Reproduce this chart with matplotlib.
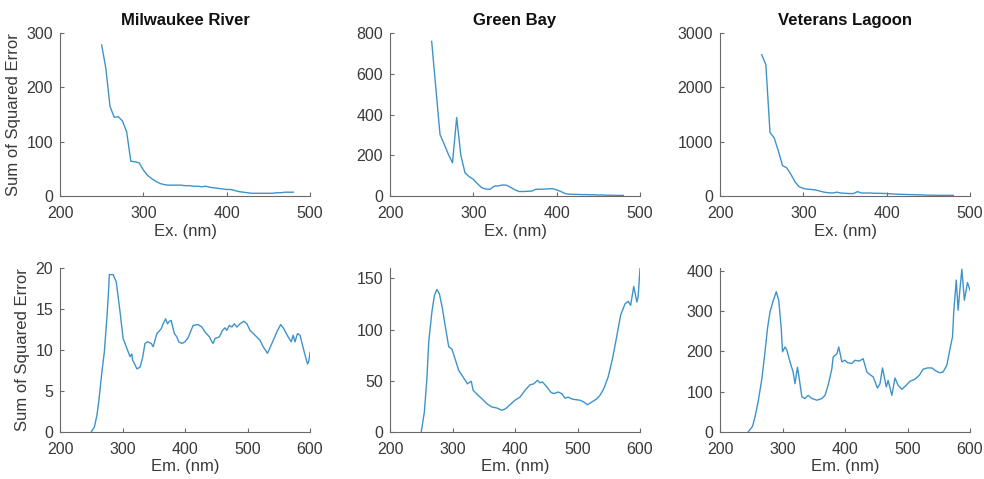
import matplotlib
matplotlib.use("Agg")
import matplotlib.pyplot as plt

plt.rcParams['font.family'] = ['Liberation Sans', 'DejaVu Sans']

titles = ["Milwaukee River", "Green Bay", "Veterans Lagoon"]
ylabel = "Sum of Squared Error"
ex_label = "Ex. (nm)"
em_label = "Em. (nm)"

# Excitation (top row)
ex_nm = [250, 255, 260, 265, 270, 275, 280, 285, 290, 295, 300, 305, 310, 315, 320,
         325, 330, 335, 340, 345, 350, 355, 360, 365, 370, 375, 380, 385, 390, 395,
         400, 405, 410, 415, 420, 425, 430, 435, 440, 445, 450, 455, 460, 465, 470,
         475, 480]
ex_milwaukee = [278, 235, 165, 145, 146, 138, 118, 64, 63, 61, 48, 38, 32, 27, 23,
                21, 20, 20, 20, 20, 19, 19, 18, 18, 17, 18, 16, 15, 14, 13,
                12, 12, 10, 8, 7, 6, 5, 5, 5, 5, 5, 5, 6, 6, 7,
                7, 7]
ex_greenbay = [759, 530, 302, 255, 205, 163, 385, 200, 114, 95, 82, 60, 41, 34, 33,
               48, 50, 54, 53, 42, 30, 22, 22, 23, 24, 33, 33, 34, 35, 36,
               30, 22, 12, 9, 8, 8, 7, 7, 6, 6, 5, 5, 4, 4, 3,
               3, 3]
ex_veterans = [2600, 2420, 1170, 1070, 830, 560, 520, 400, 260, 170, 140, 125, 120, 110, 90,
               70, 60, 55, 70, 55, 50, 45, 45, 80, 55, 55, 55, 50, 50, 48,
               45, 40, 35, 32, 30, 28, 25, 22, 20, 18, 15, 14, 13, 12, 12,
               12, 12]

# Emission (bottom row)
em_nm_milwaukee = [250, 255, 259, 262, 267, 271, 275, 277, 279, 285, 290, 296, 301, 307,
                   312, 315, 316, 320, 323, 328, 332, 336, 340, 346, 349, 355, 362, 365,
                   369, 372, 375, 378, 380, 383, 387, 390, 395, 400, 405, 413, 421, 427,
                   432, 439, 443, 445, 448, 455, 460, 464, 467, 471, 475, 479, 483, 488,
                   494, 499, 504, 512, 520, 525, 532, 539, 547, 553, 558, 565, 570, 573,
                   576, 580, 584, 588, 592, 596, 598, 600]
em_milwaukee = [0.0, 0.6, 2.0, 3.7, 7.3, 9.8, 13.9, 16.3, 19.2, 19.2, 18.3, 14.7, 11.4, 10.2,
                9.2, 9.5, 8.8, 8.2, 7.7, 7.9, 9.0, 10.8, 11.0, 10.8, 10.4, 12.0, 12.6, 13.2,
                13.8, 13.2, 13.5, 13.6, 12.9, 12.0, 11.6, 11.0, 10.8, 11.0, 11.5, 13.0, 13.1, 12.8,
                12.2, 11.6, 11.0, 10.8, 11.4, 11.6, 12.4, 12.7, 12.4, 13.0, 12.8, 13.2, 12.8, 13.2,
                13.5, 13.2, 12.4, 11.8, 11.2, 10.4, 9.6, 10.8, 12.2, 13.1, 12.6, 11.6, 11.0, 11.8,
                11.0, 12.0, 11.8, 10.6, 9.4, 8.3, 8.6, 9.7]

em_nm_greenbay = [250, 255, 259, 262, 267, 271, 275, 279, 284, 289, 294, 299, 304, 310,
                  317, 324, 330, 333, 340, 348, 355, 363, 371, 379, 385, 392, 400, 408,
                  416, 424, 430, 436, 440, 444, 451, 457, 462, 469, 475, 480, 485, 492,
                  504, 510, 516, 523, 530, 536, 542, 549, 556, 563, 569, 576, 581, 585,
                  590, 595, 597, 600]
em_greenbay = [0, 19.5, 52, 88, 117, 133, 139, 135, 120, 101, 83, 81, 71.5, 60,
               53.6, 47, 49.5, 40.7, 36.4, 31.9, 27.6, 24.4, 23.4, 21.2, 22.7, 26.6, 31, 34,
               40.7, 46, 47, 50.4, 48, 48.8, 44, 39, 37.4, 39, 37.4, 33, 34, 32,
               31, 29.3, 26.6, 29.3, 32, 35.8, 42.2, 53.6, 71.5, 94, 114, 125, 127.5, 123.6,
               142, 126.8, 131.7, 159.3]

em_nm_veterans = [245, 252, 256, 261, 267, 272, 276, 280, 285, 290, 294, 298, 300, 304,
                  307, 312, 317, 320, 324, 326, 331, 336, 341, 347, 355, 363, 368, 373,
                  379, 381, 387, 390, 395, 400, 404, 411, 416, 423, 429, 435, 441, 445,
                  452, 456, 460, 466, 469, 475, 480, 485, 491, 498, 504, 512, 519, 525,
                  532, 539, 544, 551, 557, 563, 567, 572, 574, 578, 581, 584, 587, 591,
                  596, 600]
em_veterans = [0, 14, 37, 75, 132, 199, 257, 298, 325, 348, 327, 257, 199, 211,
               203, 174, 149, 120, 161, 141, 87, 83, 91, 83, 79, 83, 91, 116,
               157, 186, 194, 211, 174, 178, 172, 170, 178, 176, 182, 149, 141, 137,
               109, 120, 159, 112, 128, 91, 134, 116, 106, 116, 126, 131, 141, 156,
               159, 159, 153, 147, 149, 166, 199, 236, 298, 377, 302, 356, 404, 327,
               371, 352]

top_ylims = [(0, 300), (0, 800), (0, 3000)]
top_yticks = [[0, 100, 200, 300], [0, 200, 400, 600, 800], [0, 1000, 2000, 3000]]
bot_ylims = [(0, 20), (0, 160), (0, 407)]
bot_yticks = [[0, 5, 10, 15, 20], [0, 50, 100, 150], [0, 100, 200, 300, 400]]

W, H = 984, 479
fig = plt.figure(figsize=(W / 100, H / 100), dpi=100)

line_color = '#3f93c8'
axis_color = '#6a6a6a'
text_color = '#3a3a3a'

lefts = [60, 390, 720]
aw = 250
top_row = (33, 196)
bot_row = (268, 432)

top_data = [ex_milwaukee, ex_greenbay, ex_veterans]
bot_x = [em_nm_milwaukee, em_nm_greenbay, em_nm_veterans]
bot_data = [em_milwaukee, em_greenbay, em_veterans]


def style(ax):
    for s in ['top', 'right']:
        ax.spines[s].set_visible(False)
    for s in ['left', 'bottom']:
        ax.spines[s].set_color(axis_color)
        ax.spines[s].set_linewidth(0.8)
    ax.tick_params(direction='in', length=3, width=0.8, color=axis_color,
                   labelcolor=text_color, labelsize=11.5)
    ax.tick_params(axis='x', pad=7)
    ax.tick_params(axis='y', pad=5)


for i in range(3):
    # top
    l = lefts[i] / W
    b = 1 - top_row[1] / H
    h = (top_row[1] - top_row[0]) / H
    ax = fig.add_axes([l, b, aw / W, h])
    ax.plot(ex_nm, top_data[i], color=line_color, lw=1.0)
    ax.set_xlim(200, 500)
    ax.set_xticks([200, 300, 400, 500])
    ax.set_ylim(*top_ylims[i])
    ax.set_yticks(top_yticks[i])
    style(ax)
    ax.set_xlabel(ex_label, fontsize=12, color=text_color, labelpad=2)
    ax.set_title(titles[i], fontsize=12, fontweight='bold', color='#111111', pad=6)
    if i == 0:
        ax.set_ylabel(ylabel, fontsize=12, color=text_color, labelpad=4)

    # bottom
    b = 1 - bot_row[1] / H
    h = (bot_row[1] - bot_row[0]) / H
    ax = fig.add_axes([l, b, aw / W, h])
    ax.plot(bot_x[i], bot_data[i], color=line_color, lw=1.0)
    ax.set_xlim(200, 600)
    ax.set_xticks([200, 300, 400, 500, 600])
    ax.set_ylim(*bot_ylims[i])
    ax.set_yticks(bot_yticks[i])
    style(ax)
    ax.set_xlabel(em_label, fontsize=12, color=text_color, labelpad=2)
    if i == 0:
        ax.set_ylabel(ylabel, fontsize=12, color=text_color, labelpad=4)

fig.savefig("out.png", dpi=100)
